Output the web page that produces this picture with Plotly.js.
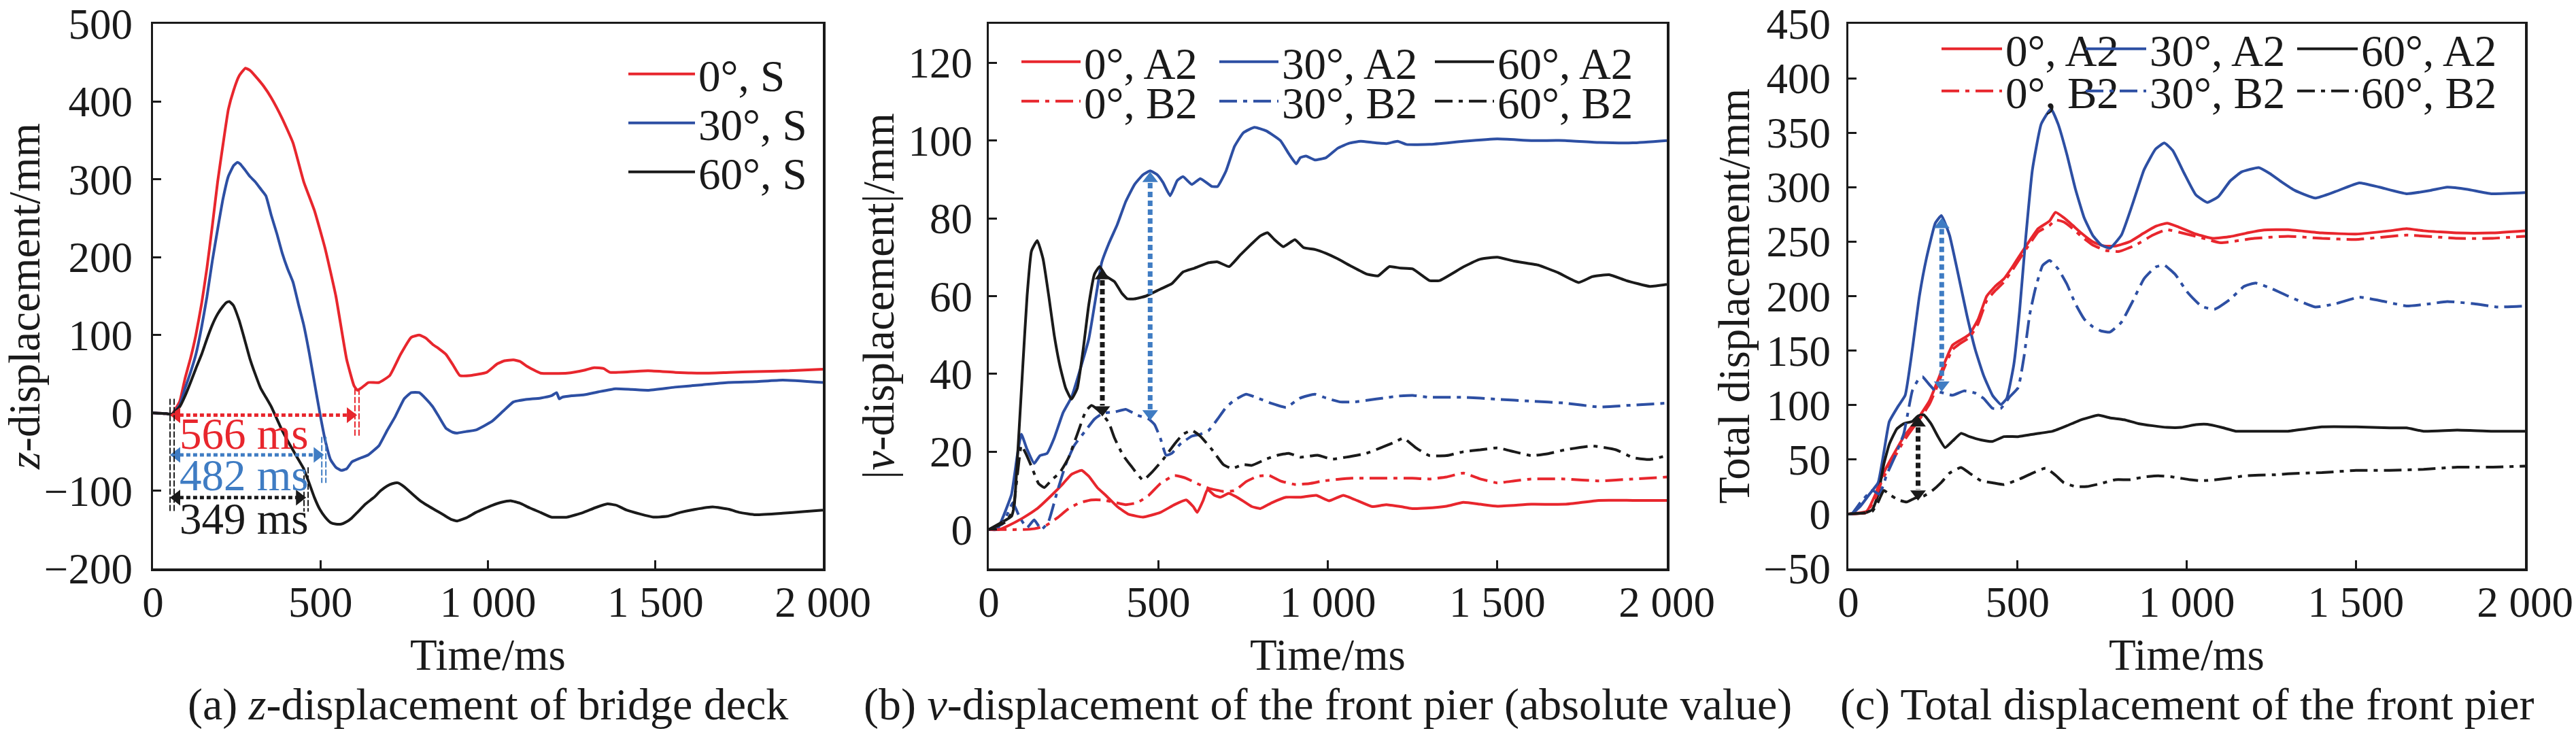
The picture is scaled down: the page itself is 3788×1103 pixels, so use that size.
<!DOCTYPE html>
<html>
<head>
<meta charset="utf-8">
<script src="https://cdn.plot.ly/plotly-3.0.1.min.js"></script>
<style>
  html, body { margin: 0; padding: 0; background: #fff; }
  #chart { width: 3788px; height: 1103px; }
</style>
</head>
<body>
<div id="chart"></div>
<script>
// ---- panel (a): z-displacement of bridge deck ----
const aTime0 = [0, 40, 56, 80, 96, 112, 128, 145, 161, 177, 193, 209, 225, 241, 257, 276, 290, 305, 330, 353, 386, 418, 450, 482, 514, 546, 578, 600, 610, 625, 643, 675, 707, 739, 771, 795, 815, 835, 855, 875, 895, 916, 948, 996, 1028, 1050, 1076, 1096, 1116, 1157, 1237, 1290, 1317, 1345, 1365, 1478, 1560, 1639, 1720, 1799, 1900, 2000];
const aZ0 = [0, -1, -2, 15, 45, 70, 100, 140, 186, 240, 297, 345, 390, 415, 433, 443, 440, 433, 420, 405, 378, 347, 297, 260, 211, 150, 69, 35, 29, 33, 39, 39, 48, 75, 97, 100, 96, 88, 82, 75, 62, 48, 48, 52, 63, 67, 68, 66, 60, 51, 51, 55, 58, 57, 52, 54, 52, 51, 52, 53, 54, 56];
const aTime30 = [0, 40, 56, 80, 96, 112, 128, 145, 161, 177, 193, 209, 225, 241, 252, 260, 275, 289, 305, 321, 337, 353, 370, 386, 402, 418, 434, 450, 466, 482, 498, 514, 530, 546, 562, 578, 594, 620, 643, 660, 675, 700, 723, 750, 771, 795, 815, 835, 855, 875, 895, 908, 935, 964, 1012, 1045, 1076, 1110, 1157, 1190, 1205, 1213, 1221, 1250, 1285, 1330, 1381, 1430, 1478, 1558, 1640, 1719, 1800, 1880, 2000];
const aZ30 = [0, -1, -2, 10, 32, 52, 75, 110, 149, 195, 236, 275, 304, 318, 322, 320, 312, 304, 297, 288, 279, 254, 230, 205, 185, 168, 140, 113, 78, 39, 0, -35, -60, -70, -74, -72, -63, -58, -54, -48, -42, -22, -5, 18, 26, 26, 18, 8, -6, -20, -25, -26, -24, -22, -11, 2, 14, 17, 19, 22, 26, 18, 20, 22, 23, 27, 31, 30, 29, 33, 36, 39, 40, 42, 39];
const aTime60 = [0, 40, 56, 80, 96, 112, 128, 145, 161, 177, 193, 209, 220, 228, 240, 257, 273, 289, 305, 321, 337, 353, 370, 386, 402, 418, 434, 450, 466, 482, 498, 514, 530, 546, 562, 578, 594, 610, 635, 659, 680, 699, 715, 731, 750, 771, 795, 819, 843, 867, 890, 908, 935, 964, 990, 1012, 1040, 1068, 1095, 1124, 1157, 1189, 1237, 1285, 1320, 1357, 1385, 1414, 1454, 1494, 1535, 1574, 1620, 1671, 1720, 1751, 1799, 1880, 1940, 2000];
const aZ60 = [0, -1, -2, 8, 22, 39, 57, 75, 95, 113, 127, 137, 142, 143, 138, 119, 95, 70, 50, 32, 20, 8, -8, -23, -36, -48, -60, -72, -90, -109, -124, -134, -141, -143, -143, -140, -135, -128, -117, -109, -100, -94, -91, -90, -95, -103, -112, -119, -125, -131, -137, -139, -135, -128, -123, -119, -115, -113, -116, -122, -128, -134, -134, -128, -122, -117, -119, -125, -130, -134, -133, -128, -124, -121, -124, -128, -131, -129, -127, -125];

// duration markers in (a)
const aSpanStart = 57;
const aSpanEnd = [603, 504, 451];
const aSpanY = [-3, -54, -109];
const aSpanText = ['566 ms', '482 ms', '349 ms'];
const aSpanTextY = [-27, -80, -136];
const aTickTop = [31, -31, -70];
const aTickBottom = [-31, -90, -127];

// ---- panel (b): |v-displacement| of front pier ----
const bTimeA0 = [0, 30, 58, 101, 143, 185, 219, 244, 274, 295, 320, 345, 379, 413, 455, 506, 548, 582, 603, 615, 632, 645, 666, 683, 708, 742, 776, 801, 835, 877, 919, 966, 1004, 1046, 1088, 1131, 1173, 1215, 1249, 1290, 1350, 1400, 1450, 1500, 1600, 1700, 1800, 1900, 2000];
const bVA0 = [0, 0, 1, 3, 5.4, 8.8, 11.8, 14.2, 15.2, 13.7, 10.8, 8.8, 5.9, 3.9, 3.2, 4.4, 6.4, 7.6, 5.9, 4.4, 7.4, 10.3, 8.8, 8.3, 9.3, 7.8, 5.9, 5.4, 6.9, 8.3, 8.3, 8.8, 7.4, 8.8, 7.4, 5.9, 6.4, 5.9, 5.4, 5.5, 6, 7, 6.5, 6, 6.5, 6.5, 7.5, 7.5, 7.5];
const bTimeB0 = [0, 101, 134, 168, 202, 236, 269, 303, 337, 371, 404, 438, 472, 506, 548, 582, 615, 649, 692, 725, 759, 793, 827, 860, 903, 945, 987, 1029, 1071, 1114, 1156, 1198, 1249, 1300, 1350, 1400, 1450, 1500, 1550, 1600, 1700, 1800, 1900, 2000];
const bVB0 = [0, 0, 0.2, 1, 3, 5.4, 6.9, 7.6, 7.6, 7, 6.4, 6.9, 8.8, 11.8, 13.9, 13.2, 11.8, 10.6, 9.8, 10, 12.3, 13.7, 13.9, 12.5, 11.6, 11.8, 12.5, 12.9, 13.2, 13.2, 13.2, 13.2, 13.2, 13, 13.5, 14.5, 13, 12, 12.5, 13, 13, 12.5, 13, 13.5];
const bTimeA30 = [0, 25, 41, 67, 84, 96, 113, 134, 151, 172, 193, 219, 244, 269, 295, 320, 333, 354, 379, 404, 430, 455, 476, 497, 514, 535, 556, 573, 599, 624, 658, 675, 700, 725, 751, 784, 818, 860, 885, 907, 919, 936, 962, 995, 1029, 1063, 1097, 1131, 1173, 1206, 1232, 1300, 1400, 1500, 1600, 1700, 1800, 1900, 2000];
const bVA30 = [0, 0, 3, 9, 19, 24.5, 20.6, 17, 19, 19.6, 23.5, 30, 34, 41, 49, 62, 68.6, 73.5, 78.4, 84.3, 88.7, 91.2, 92.2, 91.2, 89.2, 85.8, 89.7, 90.7, 88.7, 90.2, 88.2, 88.2, 92.2, 98.5, 102, 103.4, 102.5, 100, 96.6, 94, 95.6, 96, 95, 95.6, 98, 99.3, 99.8, 99.5, 99.2, 99.8, 99, 99, 99.8, 100.4, 100, 100, 99.5, 99.4, 100];
const bTimeB30 = [0, 41, 60, 71, 92, 113, 134, 155, 176, 202, 227, 252, 286, 312, 337, 371, 404, 438, 472, 489, 506, 523, 540, 565, 599, 624, 649, 675, 700, 725, 759, 793, 835, 877, 919, 962, 995, 1037, 1080, 1122, 1164, 1206, 1250, 1300, 1400, 1500, 1600, 1700, 1800, 1900, 2000];
const bVB30 = [0, 1.5, 5, 6.9, 3, 0.5, 2.5, 0, 2, 9.8, 16.7, 21.6, 25.5, 28.4, 29.9, 30.2, 30.9, 29.4, 28.4, 27, 23.5, 19.1, 19.6, 22, 24, 24.5, 25.5, 28.4, 31.4, 33.3, 34.8, 33.8, 32.4, 31.4, 33.8, 34.8, 33.8, 32.8, 32.8, 33.3, 33.8, 34.3, 34.5, 34, 34, 33.5, 33, 32.5, 31.5, 32, 32.5];
const bTimeA60 = [0, 41, 67, 75, 88, 101, 113, 126, 143, 160, 177, 193, 210, 227, 244, 261, 278, 295, 312, 327, 345, 371, 392, 409, 430, 463, 506, 540, 573, 607, 649, 675, 709, 742, 776, 801, 822, 843, 869, 903, 928, 962, 995, 1029, 1071, 1114, 1148, 1182, 1215, 1250, 1300, 1330, 1400, 1450, 1500, 1550, 1620, 1680, 1740, 1780, 1830, 1880, 1950, 2000];
const bVA60 = [0, 2, 3.4, 6, 23.5, 43, 60, 71.6, 74.3, 69.6, 60, 50, 42, 36.3, 33.5, 36.3, 46, 57.8, 65.7, 67.6, 65.2, 63.7, 60.8, 59.3, 59.3, 60, 61.8, 63.2, 66.2, 67.2, 68.6, 68.8, 67.6, 70.6, 73.5, 75.5, 76.3, 74.5, 72.7, 74.5, 72.5, 72, 71, 69.6, 67.6, 65.7, 65.2, 67.6, 67.2, 67, 64, 64, 67.5, 69.5, 70, 69, 68, 66, 63.5, 65, 65.5, 64, 62.5, 63];
const bTimeB60 = [0, 50, 71, 84, 96, 109, 126, 147, 164, 185, 210, 236, 261, 286, 303, 320, 337, 354, 371, 396, 421, 455, 481, 515, 548, 573, 599, 624, 658, 692, 717, 751, 776, 818, 852, 885, 919, 970, 1012, 1054, 1114, 1156, 1198, 1223, 1260, 1300, 1350, 1400, 1450, 1500, 1550, 1600, 1650, 1700, 1780, 1850, 1900, 1950, 2000];
const bVB60 = [0, 2, 4.9, 13.7, 21.6, 19.6, 16.2, 11.8, 10.8, 12.7, 14.7, 18.6, 24.5, 30.4, 31.9, 30.9, 29.4, 27.5, 23.5, 19.1, 16.2, 12.7, 14.7, 18.1, 22, 24.5, 25.5, 24, 20.6, 16.7, 15.7, 16.7, 16.5, 18.1, 19.1, 19.6, 18.6, 19.1, 18.1, 18.6, 19.6, 21, 22.5, 23.5, 21, 19, 19, 20, 20.5, 21, 20, 19, 19.5, 20.5, 21.5, 20.5, 18.5, 18, 19];

// vertical gap arrows in (b): [60°, 30°]
const bArrowT = [335, 476];
const bArrowTop = [67, 92];
const bArrowBottom = [29, 28];

// ---- panel (c): total displacement of front pier ----
const cTimeA0 = [0, 54, 80, 96, 113, 138, 164, 189, 215, 240, 265, 282, 308, 333, 358, 384, 409, 434, 460, 485, 510, 536, 561, 595, 612, 637, 663, 688, 722, 756, 790, 832, 874, 908, 942, 976, 1027, 1077, 1128, 1179, 1229, 1263, 1300, 1400, 1500, 1600, 1650, 1700, 1800, 1900, 2000];
const cDA0 = [0, 2.5, 18, 32, 43, 57, 71, 81, 92, 104, 123, 137, 155, 160, 165, 179, 200, 209, 216, 227, 239, 251, 262, 269, 277, 272, 265, 258, 250, 246, 246, 250, 258, 264, 267, 263.5, 257, 253, 254.6, 258, 260.7, 261, 261, 258, 257, 260, 262, 260, 258, 258, 260];
const cTimeB0 = [0, 54, 80, 96, 113, 138, 164, 189, 215, 240, 265, 282, 308, 333, 358, 384, 409, 434, 460, 485, 510, 536, 561, 595, 612, 637, 663, 688, 722, 760, 800, 850, 900, 940, 1000, 1050, 1100, 1200, 1300, 1400, 1500, 1650, 1800, 1900, 2000];
const cDB0 = [0, 1.5, 15, 28, 39, 53, 67, 78, 89, 101, 119, 133, 151, 157, 162, 175, 196, 205, 213, 224, 236, 248, 259, 265, 270, 268, 262, 255, 247, 242, 241, 247, 256, 261, 257, 253, 249, 253, 255, 253, 252, 256, 253, 253, 255];
const cTimeA30 = [0, 10, 37, 62, 88, 105, 121, 147, 168, 189, 210, 231, 257, 275, 299, 324, 350, 375, 400, 426, 451, 468, 489, 506, 523, 544, 570, 599, 620, 646, 671, 697, 722, 747, 773, 807, 840, 874, 908, 934, 959, 993, 1027, 1061, 1094, 1128, 1162, 1213, 1246, 1280, 1320, 1380, 1440, 1510, 1570, 1650, 1720, 1770, 1830, 1900, 2000];
const cDA30 = [0, 0, 7.7, 18, 28.7, 56.8, 84.8, 98.8, 109, 151, 200, 235, 267, 274, 256, 221, 183, 151, 127, 109, 100.5, 106, 137, 186, 249, 316, 358, 372, 358, 330, 298.5, 272, 256, 247, 244, 256, 284.5, 316, 335, 340.6, 333.6, 312.5, 293, 286, 291.5, 305.5, 314, 318, 312.5, 305, 297, 290, 296, 304, 300, 294, 297, 300, 298, 294, 295];
const cTimeB30 = [0, 10, 37, 71, 92, 113, 138, 164, 189, 206, 219, 236, 257, 282, 308, 342, 375, 400, 426, 451, 477, 502, 519, 536, 553, 574, 595, 620, 646, 671, 697, 722, 747, 773, 807, 840, 874, 908, 934, 967, 1001, 1044, 1082, 1128, 1170, 1204, 1250, 1300, 1380, 1440, 1510, 1570, 1650, 1720, 1770, 1850, 1920, 2000];
const cDB30 = [0, 0, 11, 21.7, 18, 35.7, 53, 74, 113, 123, 126, 120, 113, 111, 109, 113, 111, 106, 97, 97, 107.6, 116, 144, 183, 207, 228, 232.7, 225, 211, 193, 179, 172, 168, 167, 176, 195, 216, 226.7, 228.4, 219.6, 204, 190.6, 188, 197, 209, 212, 207, 200, 190, 193, 199, 196, 191, 193, 195, 193, 190, 191];
const cTimeA60 = [0, 50, 71, 88, 105, 121, 143, 164, 189, 206, 223, 244, 265, 286, 308, 333, 358, 392, 426, 460, 502, 553, 604, 646, 688, 739, 773, 815, 857, 900, 942, 984, 1027, 1061, 1103, 1145, 1196, 1263, 1300, 1350, 1400, 1500, 1600, 1650, 1700, 1800, 1900, 2000];
const cDA60 = [0, 1, 4, 18, 46, 64, 78, 83, 85, 90, 91, 83, 71, 61, 67, 74, 71, 68, 66.6, 71, 71, 73.6, 76, 81, 86.5, 90.7, 88.3, 86.5, 83, 81, 79.5, 79.5, 82, 82.3, 79.5, 76, 76, 76, 76, 78, 80, 80, 79, 79, 76, 77, 76, 76];
const cTimeB60 = [0, 50, 71, 88, 105, 121, 147, 172, 198, 223, 249, 274, 299, 333, 358, 392, 426, 460, 502, 544, 583, 612, 637, 671, 705, 747, 790, 832, 874, 916, 959, 1010, 1044, 1086, 1128, 1170, 1213, 1263, 1300, 1400, 1500, 1600, 1700, 1800, 1900, 2000];
const cDB60 = [0, 1, 2.5, 11, 21.7, 18, 13, 11, 14.7, 16.5, 21.7, 28.7, 37.5, 42.7, 37.5, 30.5, 28.7, 27, 31.5, 37.5, 42, 35.7, 28.7, 25.2, 25.2, 28, 31.5, 31.5, 34, 35, 34, 31.5, 30.5, 31.5, 33, 35, 35.7, 36, 37, 38, 40, 40, 41, 43, 43, 44];

// vertical gap arrows in (c): [60°, 30°]
const cArrowT = [206, 276];
const cArrowTop = [90, 272];
const cArrowBottom = [12, 112];

// tick labels
const timeTicks = [0, 500, 1000, 1500, 2000];
const timeTickText = ['0', '500', '1 000', '1 500', '2 000'];

const RED = '#e8262d', BLUE = '#2d4fa3', BLACK = '#1a1a1a', LIGHTBLUE = '#3f7cc3';
const FONT = 'Liberation Serif, Times New Roman, serif';
const DASHDOT = '26px,9px,6px,9px';
const W = 3788, H = 1103;

// legend entry widths (px) for the legend columns in (b)
const bEntryW = [189, 215, 235];

function curve(x, y, name, color, dash, xa, ya, legend, entryW) {
  var tr = {
    x: x, y: y, name: name, type: 'scatter', mode: 'lines',
    line: { color: color, width: 4, dash: dash, shape: 'spline', smoothing: 0.4 },
    xaxis: xa, yaxis: ya, legend: legend, hoverinfo: 'x+y'
  };
  if (entryW) tr.legendwidth = entryW;
  return tr;
}

var data = [
  curve(aTime0, aZ0, '0°, S', RED, 'solid', 'x', 'y', 'legend'),
  curve(aTime30, aZ30, '30°, S', BLUE, 'solid', 'x', 'y', 'legend2'),
  curve(aTime60, aZ60, '60°, S', BLACK, 'solid', 'x', 'y', 'legend3'),

  curve(bTimeA0, bVA0, '0°, A2', RED, 'solid', 'x2', 'y2', 'legend4', bEntryW[0]),
  curve(bTimeA30, bVA30, '30°, A2', BLUE, 'solid', 'x2', 'y2', 'legend4', bEntryW[1]),
  curve(bTimeA60, bVA60, '60°, A2', BLACK, 'solid', 'x2', 'y2', 'legend4', bEntryW[2]),
  curve(bTimeB0, bVB0, '0°, B2', RED, DASHDOT, 'x2', 'y2', 'legend5', bEntryW[0]),
  curve(bTimeB30, bVB30, '30°, B2', BLUE, DASHDOT, 'x2', 'y2', 'legend5', bEntryW[1]),
  curve(bTimeB60, bVB60, '60°, B2', BLACK, DASHDOT, 'x2', 'y2', 'legend5', bEntryW[2]),

  curve(cTimeA0, cDA0, '0°, A2', RED, 'solid', 'x3', 'y3', 'legend6'),
  curve(cTimeA30, cDA30, '30°, A2', BLUE, 'solid', 'x3', 'y3', 'legend10'),
  curve(cTimeA60, cDA60, '60°, A2', BLACK, 'solid', 'x3', 'y3', 'legend8'),
  curve(cTimeB0, cDB0, '0°, B2', RED, DASHDOT, 'x3', 'y3', 'legend7'),
  curve(cTimeB30, cDB30, '30°, B2', BLUE, DASHDOT, 'x3', 'y3', 'legend11'),
  curve(cTimeB60, cDB60, '60°, B2', BLACK, DASHDOT, 'x3', 'y3', 'legend9')
];

var shapes = [];
var annotations = [];
var spanColors = [RED, LIGHTBLUE, BLACK];

// (a) horizontal duration arrows
function doubleTick(t, y0, y1, color, xref, yref) {
  [-3, 3].forEach(function (dx) {
    shapes.push({
      type: 'line', xref: xref, yref: yref, xsizemode: 'pixel', xanchor: t,
      x0: dx, x1: dx, y0: y0, y1: y1,
      line: { color: color, width: 2, dash: '9px,3px' }
    });
  });
}
doubleTick(aSpanStart, 18, -127, BLACK, 'x', 'y');
for (var i = 0; i < aSpanEnd.length; i++) {
  shapes.push({
    type: 'line', xref: 'x', yref: 'y',
    x0: aSpanStart + 22, x1: aSpanEnd[i] - 22, y0: aSpanY[i], y1: aSpanY[i],
    line: { color: spanColors[i], width: 5, dash: '6px,4px' }
  });
  doubleTick(aSpanEnd[i] + 6, aTickTop[i], aTickBottom[i], spanColors[i], 'x', 'y');
  data.push({
    x: [aSpanStart + 14, aSpanEnd[i] - 14], y: [aSpanY[i], aSpanY[i]],
    type: 'scatter', mode: 'markers', showlegend: false, hoverinfo: 'skip',
    xaxis: 'x', yaxis: 'y',
    marker: { symbol: ['triangle-left', 'triangle-right'], size: 20, color: spanColors[i], line: { width: 0 } }
  });
  annotations.push({
    xref: 'x', yref: 'y', x: 75, y: aSpanTextY[i], xanchor: 'left', yanchor: 'middle',
    text: aSpanText[i], showarrow: false,
    font: { family: FONT, size: 65, color: spanColors[i] }
  });
}

// (b), (c) vertical gap arrows
function vArrows(ts, tops, bottoms, xa, ya, headOffset, colors) {
  for (var k = 0; k < ts.length; k++) {
    shapes.push({
      type: 'line', xref: xa, yref: ya, x0: ts[k], x1: ts[k],
      y0: tops[k] - headOffset * 1.6, y1: bottoms[k] + headOffset * 1.6,
      line: { color: colors[k], width: 7, dash: '8px,5px' }
    });
    data.push({
      x: [ts[k], ts[k]], y: [tops[k] - headOffset, bottoms[k] + headOffset],
      type: 'scatter', mode: 'markers', showlegend: false, hoverinfo: 'skip',
      xaxis: xa, yaxis: ya,
      marker: { symbol: ['triangle-up', 'triangle-down'], size: 20, color: colors[k], line: { width: 0 } }
    });
  }
}
vArrows(bArrowT, bArrowTop, bArrowBottom, 'x2', 'y2', 1.8, [BLACK, LIGHTBLUE]);
vArrows(cArrowT, cArrowTop, cArrowBottom, 'x3', 'y3', 6.5, [BLACK, LIGHTBLUE]);

// captions
var captions = [
  ['(a) <i>z</i>-displacement of bridge deck', (225 + 1210) / 2],
  ['(b) <i>v</i>-displacement of the front pier (absolute value)', (1454 + 2451) / 2],
  ['(c) Total displacement of the front pier', (2718 + 3713) / 2]
];
captions.forEach(function (c) {
  annotations.push({
    xref: 'paper', yref: 'paper', x: c[1] / W, y: 1 - 1036 / H,
    xanchor: 'center', yanchor: 'middle', showarrow: false, text: c[0],
    font: { family: FONT, size: 66, color: BLACK }
  });
});

function xAxis(d0, d1, anchor) {
  return {
    domain: [d0 / W, d1 / W], anchor: anchor, range: [0, 2000],
    tickvals: timeTicks, ticktext: timeTickText,
    showline: true, mirror: true, linecolor: BLACK, linewidth: 3.5,
    ticks: 'inside', ticklen: 12, tickwidth: 3, tickcolor: BLACK,
    showgrid: false, zeroline: false, ticklabelstandoff: -8,
    tickfont: { family: FONT, size: 63, color: BLACK },
    title: { text: 'Time/ms', standoff: 20, font: { family: FONT, size: 65, color: BLACK } }
  };
}
function yAxis(range, dtick, anchor, title, standoff, labelGap) {
  return {
    domain: [1 - 836 / H, 1 - 35 / H], anchor: anchor, range: range, dtick: dtick, tick0: 0,
    showline: true, mirror: true, linecolor: BLACK, linewidth: 3.5,
    ticks: 'inside', ticklen: 12, tickwidth: 3, tickcolor: BLACK,
    showgrid: false, zeroline: false, ticklabelstandoff: labelGap,
    tickfont: { family: FONT, size: 63, color: BLACK },
    title: { text: title, standoff: standoff, font: { family: FONT, size: 65, color: BLACK } }
  };
}

function legendRow(xPx, yPx, symbolW) {
  return {
    x: xPx / W, y: 1 - yPx / H, xanchor: 'left', yanchor: 'middle',
    orientation: 'h', bgcolor: 'rgba(0,0,0,0)', borderwidth: 0,
    itemwidth: symbolW, tracegroupgap: 0,
    font: { family: FONT, size: 65, color: BLACK }
  };
}

var layout = {
  width: W, height: H, autosize: false,
  margin: { l: 0, r: 0, t: 0, b: 0, pad: 0, autoexpand: false },
  paper_bgcolor: '#ffffff', plot_bgcolor: '#ffffff',
  showlegend: true,
  xaxis: xAxis(225, 1210, 'y'),
  yaxis: yAxis([-200, 500], 100, 'x', '<i>z</i>-displacement/mm', 7, 14),
  xaxis2: xAxis(1454, 2451, 'y2'),
  yaxis2: yAxis([-10, 130], 20, 'x2', '|<i>v</i>-displacement|/mm', 0, 8),
  xaxis3: xAxis(2718, 3713, 'y3'),
  yaxis3: yAxis([-50, 450], 50, 'x3', 'Total displacement/mm', 0, 10),
  legend: legendRow(919, 109, 98),
  legend2: legendRow(919, 181, 98),
  legend3: legendRow(919, 253, 98),
  legend4: legendRow(1497, 91, 87),
  legend5: legendRow(1497, 149, 87),
  legend6: legendRow(2850, 72, 89),
  legend7: legendRow(2850, 134, 89),
  legend10: legendRow(3062, 72, 89),
  legend11: legendRow(3062, 134, 89),
  legend8: legendRow(3373, 72, 89),
  legend9: legendRow(3373, 134, 89),
  shapes: shapes,
  annotations: annotations
};

Plotly.newPlot('chart', data, layout, { displayModeBar: false, staticPlot: true });
</script>
</body>
</html>
